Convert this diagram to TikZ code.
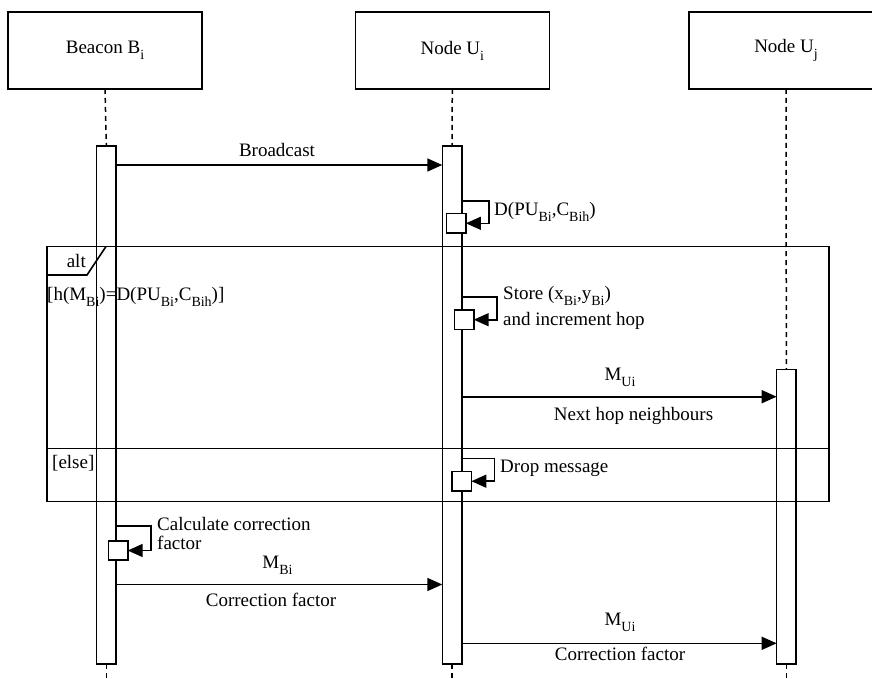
\documentclass[tikz,border=0pt]{standalone}
\usepackage{fontspec}
\setmainfont{Liberation Serif}
\usetikzlibrary{arrows.meta}
\newcommand{\sbs}[1]{\raisebox{-6pt}{\fontsize{14}{14}\selectfont #1}}

\begin{document}
\begin{tikzpicture}[
  x=1pt,
  y=-1pt,
  line join=miter,
  font=\fontsize{19}{22}\selectfont,
  frame/.style={draw=black,line width=1.6pt},
  head/.style={frame,fill=white,minimum width=194pt,minimum height=77pt,inner sep=0pt,outer sep=0pt},
  bar/.style={frame,fill=white,minimum width=19.4pt,inner sep=0pt,outer sep=0pt,anchor=north},
  selfbox/.style={frame,fill=white,minimum width=19.4pt,minimum height=19.4pt,inner sep=0pt,outer sep=0pt},
  lifeline/.style={draw=black,line width=1.5pt,dash pattern=on 5pt off 4pt},
  msg/.style={draw=black,line width=1.6pt,-{Triangle[length=15pt,width=13pt]}},
  lbl/.style={inner sep=0pt,anchor=base},
  lblw/.style={inner sep=0pt,anchor=base west}
]
  % Match the artwork frame; the right header box runs off the page.
  \useasboundingbox (0,0) rectangle (872,679);
  \fill[white] (0,0) rectangle (872,679);
  \clip (0,0) rectangle (872,679);
  \coordinate (bottom) at (0,679);

  % Participants and their activation bars.
  \node[head] (hB) at (105,50.5) {Beacon B\sbs{i}};
  \node[head] (hUi) at (452.3,50.5) {Node U\sbs{i}};
  \node[head] (hUj) at (786,50.5) {Node U\sbs{j}};
  \node[bar,minimum height=518pt] (barB) at (106.35,146) {};
  \node[bar,minimum height=518pt] (barUi) at (452,146) {};
  \node[bar,minimum height=294.7pt] (barUj) at (786.35,369.3) {};

  % Dashed lifelines above and below the bars.
  \foreach \h/\b in {hB/barB,hUi/barUi,hUj/barUj} {
    \draw[lifeline] (\h.south) -- (\b.north);
    \draw[lifeline] (\b.south) -- (\b.south |- bottom);
  }

  % Combined fragment: alt with an else operand.
  \coordinate (fTL) at (46.7,246.5);
  \coordinate (fBR) at (829,501.5);
  \draw[frame] (fTL) rectangle (fBR);
  \draw[frame] (fTL |- 0,275) -- (87,275) -- (106,246.5);
  \draw[frame] (fTL |- 0,448.5) -- (fBR |- 0,448.5);

  % Self messages: small activation boxes and their return loops.
  \node[selfbox] (dBox) at (456.2,223.3) {};
  \node[selfbox] (stBox) at (464,319.7) {};
  \node[selfbox] (drBox) at (461.7,481.2) {};
  \node[selfbox] (cBox) at (118,550.5) {};
  \foreach \b/\ys/\xr in {dBox/200.7/489,stBox/296.7/496.7,drBox/458.3/494.3}
    \draw[msg] (barUi.east |- 0,\ys) -- (\xr,\ys) |- (\b.east);
  \draw[msg] (barB.east |- 0,525.7) -- (150.7,525.7) |- (cBox.east);

  % Messages between lifelines.
  \draw[msg] (barB.east |- 0,165) -- (barUi.west |- 0,165);
  \draw[msg] (barUi.east |- 0,396.7) -- (barUj.west |- 0,396.7);
  \draw[msg] (barB.east |- 0,584.5) -- (barUi.west |- 0,584.5);
  \draw[msg] (barUi.east |- 0,643.3) -- (barUj.west |- 0,643.3);

  % Labels.
  \node[lbl] (tBcast) at (277,157) {Broadcast};
  \node[lblw] (tD) at (494,215) {D(PU\sbs{Bi},C\sbs{Bih})};
  \node[lbl] (tAlt) at (76.3,267.3) {alt};
  \node[lblw] (tGuard) at (47,300) {[h(M\sbs{Bi})=D(PU\sbs{Bi},C\sbs{Bih})]};
  \node[lblw] (tStore) at (503,299) {Store (x\sbs{Bi},y\sbs{Bi})};
  \node[lblw] (tHop) at (503,325.7) {and increment hop};
  \node[lbl] (tMU1) at (620,380) {M\sbs{Ui}};
  \node[lbl] (tNext) at (633.5,420) {Next hop neighbours};
  \node[lblw] (tElse) at (52,468.3) {[else]};
  \node[lblw] (tDrop) at (500,472) {Drop message};
  \node[lblw] (tCalc1) at (157,530) {Calculate correction};
  \node[lblw] (tCalc2) at (157,549.3) {factor};
  \node[lbl] (tMB) at (277.5,568.3) {M\sbs{Bi}};
  \node[lbl] (tCF1) at (271,606) {Correction factor};
  \node[lbl] (tMU2) at (620,625) {M\sbs{Ui}};
  \node[lbl] (tCF2) at (620,660) {Correction factor};
\end{tikzpicture}
\end{document}
